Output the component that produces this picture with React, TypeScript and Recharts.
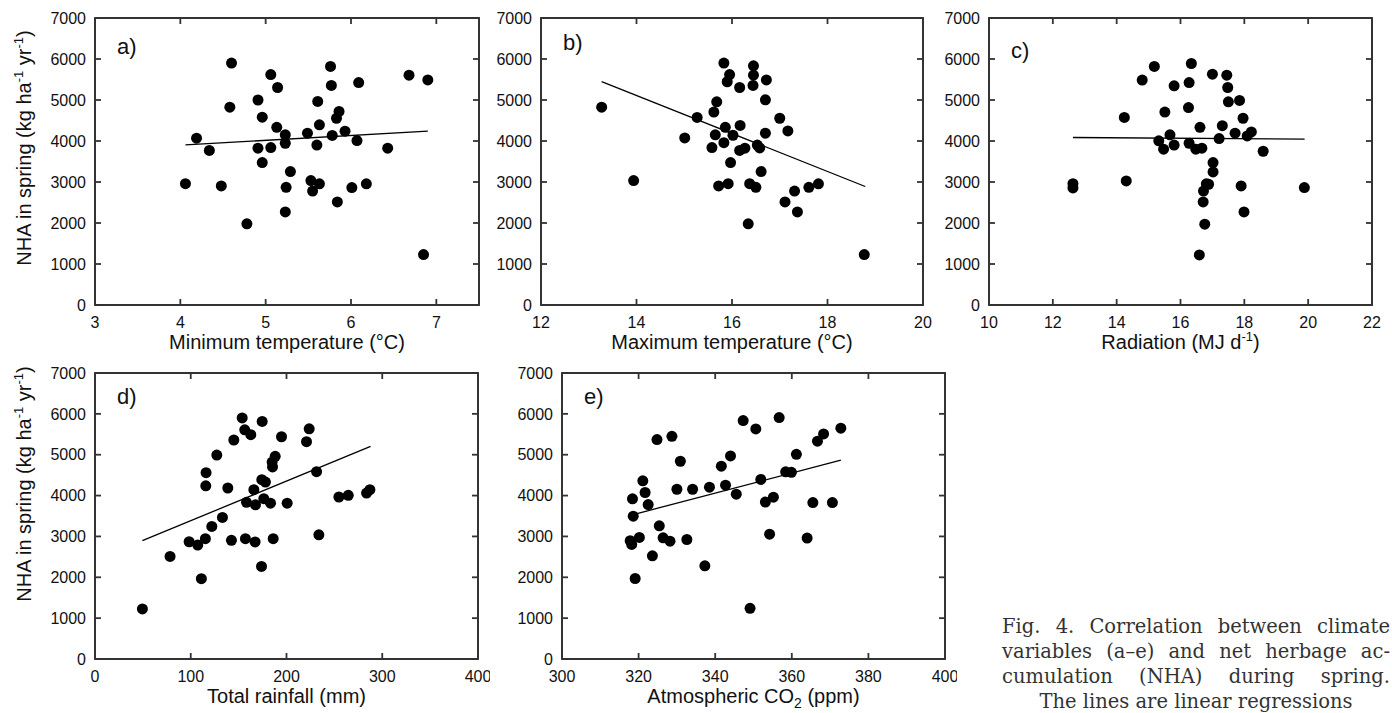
import React from "react";
import { ScatterChart, Scatter, XAxis, YAxis, Label, ReferenceArea } from "recharts";

// NHA in spring (kg/ha/yr) against each climate variable
const minTemp = [4.06, 4.19, 4.34, 4.48, 4.6, 4.58, 4.78, 4.91, 4.96, 4.91, 4.96, 5.06, 5.06, 5.14, 5.13, 5.23, 5.23, 5.24, 5.23, 5.29, 5.49, 5.53, 5.55, 5.63, 5.6, 5.61, 5.63, 5.76, 5.77, 5.78, 5.84, 5.83, 5.86, 5.93, 6.07, 6.09, 6.01, 6.18, 6.43, 6.68, 6.9, 6.85];
const nhaMinTemp = [2960, 4070, 3770, 2905, 5900, 4825, 1980, 5000, 4580, 3825, 3475, 5620, 3840, 5305, 4335, 4150, 3945, 2870, 2270, 3255, 4190, 3035, 2780, 2955, 3900, 4965, 4395, 5820, 5355, 4135, 2515, 4555, 4720, 4240, 4010, 5425, 2865, 2955, 3825, 5605, 5490, 1230];

const maxTemp = [13.27, 13.94, 15.01, 15.27, 15.58, 15.62, 15.68, 15.65, 15.72, 15.83, 15.86, 15.83, 15.92, 15.95, 15.9, 15.97, 16.02, 16.16, 16.17, 16.16, 16.27, 16.34, 16.37, 16.45, 16.45, 16.44, 16.5, 16.53, 16.58, 16.61, 16.7, 16.72, 16.7, 17.0, 17.17, 17.11, 17.31, 17.37, 17.61, 17.81, 18.77];
const nhaMaxTemp = [4825, 3035, 4075, 4575, 3840, 4705, 4955, 4150, 2905, 5900, 4335, 3960, 2960, 5620, 5445, 3475, 4140, 5305, 4380, 3770, 3825, 1980, 2960, 5835, 5605, 5355, 2870, 3900, 3830, 3255, 5005, 5490, 4190, 4555, 4245, 2515, 2780, 2270, 2870, 2955, 1230];

const radiation = [12.63, 12.63, 14.24, 14.3, 14.8, 15.18, 15.32, 15.47, 15.51, 15.67, 15.8, 15.8, 16.25, 16.27, 16.27, 16.34, 16.48, 16.61, 16.67, 16.59, 16.71, 16.72, 16.76, 16.81, 16.88, 17.02, 17.02, 17.0, 17.21, 17.31, 17.45, 17.48, 17.5, 17.71, 17.85, 17.9, 17.96, 17.99, 18.09, 18.22, 18.59, 19.88];
const nhaRadiation = [2960, 2855, 4575, 3025, 5485, 5820, 4005, 3800, 4705, 4150, 3900, 5345, 4815, 5425, 3945, 5890, 3800, 4335, 3825, 1220, 2515, 2780, 1970, 2955, 2945, 3475, 3245, 5630, 4060, 4375, 5605, 5305, 4955, 4190, 4990, 2905, 4555, 2270, 4125, 4220, 3750, 2865];

const rainfall = [49.5, 78.4, 98.3, 107.3, 111.1, 115.3, 116.0, 115.7, 122.0, 127.2, 133.1, 138.7, 142.5, 145.0, 153.7, 156.4, 157.1, 158.2, 162.7, 165.9, 167.2, 167.6, 174.6, 173.9, 174.2, 178.0, 176.3, 183.3, 185.0, 185.4, 188.2, 186.1, 194.8, 200.7, 220.9, 223.7, 231.4, 233.8, 254.7, 264.5, 283.6, 287.1];
const nhaRainfall = [1225, 2510, 2870, 2790, 1965, 2945, 4560, 4240, 3245, 4990, 3465, 4185, 2905, 5360, 5900, 5610, 2945, 3835, 5490, 4145, 2865, 3775, 5815, 2265, 4390, 4330, 3925, 3815, 4820, 4700, 4960, 2945, 5440, 3815, 5320, 5635, 4585, 3040, 3965, 4005, 4060, 4145];

const co2 = [317.8, 318.2, 318.4, 318.6, 319.1, 320.2, 321.1, 321.7, 322.5, 323.6, 324.8, 325.4, 326.4, 328.2, 328.7, 330.0, 330.9, 332.6, 334.1, 337.3, 338.5, 341.6, 342.7, 344.0, 345.5, 347.3, 349.1, 350.6, 351.9, 353.1, 354.2, 355.2, 356.7, 358.4, 359.9, 361.2, 364.0, 365.5, 366.7, 368.3, 370.6, 372.8];
const nhaCo2 = [2895, 2805, 3920, 3495, 1970, 2975, 4360, 4075, 3780, 2525, 5370, 3260, 2965, 2885, 5450, 4155, 4840, 2925, 4155, 2280, 4205, 4720, 4255, 4970, 4035, 5835, 1240, 5630, 4395, 3840, 3055, 3960, 5910, 4580, 4570, 5010, 2960, 3830, 5330, 5510, 3830, 5650];

// regression line end points (x, y)
const fitMinTemp = [[4.06, 3905], [6.9, 4240]];
const fitMaxTemp = [[13.27, 5450], [18.79, 2890]];
const fitRadiation = [[12.63, 4085], [19.89, 4045]];
const fitRainfall = [[49.5, 2895], [287.8, 5205]];
const fitCo2 = [[319.6, 3560], [372.8, 4865]];

const yTicks = [0, 1000, 2000, 3000, 4000, 5000, 6000, 7000];
const minTempTicks = [3, 4, 5, 6, 7];
const maxTempTicks = [12, 14, 16, 18, 20];
const radiationTicks = [10, 12, 14, 16, 18, 20, 22];
const rainfallTicks = [0, 100, 200, 300, 400];
const co2Ticks = [300, 320, 340, 360, 380, 400];

const FONT = "'Liberation Sans', Arial, sans-serif";
const LINE = "#333";
const LW = 1.8;
const TL = 6; // inward tick length
const AXIS = { stroke: LINE, strokeWidth: LW };

const dot = (p: any) => <circle cx={p.cx} cy={p.cy} r={5.5} fill="#000" />;
const noDot = () => <g />;

const yTitle = (
  <>
    NHA in spring (kg ha<tspan dy={-8} fontSize={13}>-1</tspan>
    <tspan dy={8}> yr</tspan>
    <tspan dy={-8} fontSize={13}>-1</tspan>
    <tspan dy={8}>)</tspan>
  </>
);

interface PanelProps {
  left: number;
  top: number;
  plotW: number;
  plotH: number;
  yAxisW: number;
  xs: number[];
  ys: number[];
  fit: number[][];
  domain: [number, number];
  ticks: number[];
  letter: string;
  letterDy: number;
  xTitle: React.ReactNode;
  yLabelY?: number;
}

function Panel(props: PanelProps) {
  const { left, top, plotW, plotH, yAxisW, xs, ys, fit, domain, ticks, letter, letterDy, xTitle, yLabelY } = props;
  const points = xs.map((x, i) => ({ x, y: ys[i] }));
  const line = fit.map(([x, y]) => ({ x, y }));
  const width = yAxisW + plotW + 12;
  const height = 10 + plotH + 56;

  // tick marks point inward, on both opposite sides of the box
  const bottomTick = (p: any) => (
    <g>
      <line x1={p.x} y1={p.y} x2={p.x} y2={p.y - TL} stroke={LINE} strokeWidth={LW} />
      <line x1={p.x} y1={p.y - plotH} x2={p.x} y2={p.y - plotH + TL} stroke={LINE} strokeWidth={LW} />
      <text x={p.x} y={p.y + 12} dy="0.71em" textAnchor="middle" fontSize={16} fill="#111" fontFamily={FONT}>
        {p.payload.value}
      </text>
    </g>
  );
  const leftTick = (p: any) => (
    <g>
      <line x1={p.x} y1={p.y} x2={p.x + TL} y2={p.y} stroke={LINE} strokeWidth={LW} />
      <line x1={p.x + plotW} y1={p.y} x2={p.x + plotW - TL} y2={p.y} stroke={LINE} strokeWidth={LW} />
      <text x={p.x - 9} y={p.y} dy="0.355em" textAnchor="end" fontSize={16} fill="#111" fontFamily={FONT}>
        {p.payload.value}
      </text>
    </g>
  );

  return (
    <>
      <div style={{ position: "absolute", left: left - yAxisW, top: top - 10 }}>
        <ScatterChart width={width} height={height} margin={{ top: 0, right: 0, bottom: 0, left: 0 }}>
          <XAxis
            type="number"
            dataKey="x"
            domain={domain}
            ticks={ticks}
            interval={0}
            height={56}
            tickSize={0}
            tickMargin={0}
            axisLine={AXIS}
            tickLine={false}
            tick={bottomTick}
          >
            <Label
              content={(p: any) => (
                <text
                  x={p.viewBox.x + p.viewBox.width / 2}
                  y={p.viewBox.y + 44}
                  textAnchor="middle"
                  fontSize={20}
                  fill="#111"
                  fontFamily={FONT}
                >
                  {xTitle}
                </text>
              )}
            />
          </XAxis>
          <XAxis
            xAxisId="top"
            orientation="top"
            type="number"
            dataKey="x"
            domain={domain}
            ticks={ticks}
            interval={0}
            height={10}
            axisLine={AXIS}
            tickLine={false}
            tick={false}
          />
          <YAxis
            type="number"
            dataKey="y"
            domain={[0, 7000]}
            ticks={yTicks}
            interval={0}
            width={yAxisW}
            tickSize={0}
            tickMargin={0}
            axisLine={AXIS}
            tickLine={false}
            tick={leftTick}
          >
            {yLabelY !== undefined && (
              <Label
                content={() => (
                  <text
                    x={31}
                    y={yLabelY}
                    transform={`rotate(-90 31 ${yLabelY})`}
                    textAnchor="middle"
                    fontSize={20}
                    fill="#111"
                    fontFamily={FONT}
                  >
                    {yTitle}
                  </text>
                )}
              />
            )}
          </YAxis>
          <YAxis
            yAxisId="right"
            orientation="right"
            type="number"
            dataKey="y"
            domain={[0, 7000]}
            ticks={yTicks}
            interval={0}
            width={12}
            axisLine={AXIS}
            tickLine={false}
            tick={false}
          />
          <ReferenceArea
            x1={domain[0]}
            x2={domain[1]}
            y1={0}
            y2={7000}
            fill="none"
            stroke={LINE}
            strokeWidth={LW}
            ifOverflow="visible"
          />
          <Scatter data={points} shape={dot} isAnimationActive={false} />
          <Scatter
            data={line}
            xAxisId="top"
            yAxisId="right"
            line={{ stroke: "#000", strokeWidth: 1.3 }}
            shape={noDot}
            isAnimationActive={false}
          />
        </ScatterChart>
      </div>
      <div
        style={{
          position: "absolute",
          left: left + 22,
          top: top + letterDy,
          fontFamily: FONT,
          fontSize: 22,
          lineHeight: "22px",
          color: "#111",
        }}
      >
        {letter}
      </div>
    </>
  );
}

const captionLine: React.CSSProperties = {
  position: "absolute",
  left: 1002,
  width: 388,
  fontFamily: "'DejaVu Serif', serif",
  fontSize: 19.5,
  lineHeight: "25px",
  color: "#333",
  whiteSpace: "nowrap",
};

export default function App() {
  return (
    <div style={{ position: "absolute", left: 0, top: 0, width: 1392, height: 713, background: "#fff", overflow: "hidden" }}>
      <Panel
        left={95} top={18} plotW={384} plotH={287} yAxisW={95}
        xs={minTemp} ys={nhaMinTemp} fit={fitMinTemp}
        domain={[3, 7.5]} ticks={minTempTicks}
        letter="a)" letterDy={18}
        xTitle="Minimum temperature (°C)"
        yLabelY={140}
      />
      <Panel
        left={541} top={18} plotW={382} plotH={287} yAxisW={60}
        xs={maxTemp} ys={nhaMaxTemp} fit={fitMaxTemp}
        domain={[12, 20]} ticks={maxTempTicks}
        letter="b)" letterDy={14}
        xTitle="Maximum temperature (°C)"
      />
      <Panel
        left={989} top={18} plotW={383} plotH={287} yAxisW={60}
        xs={radiation} ys={nhaRadiation} fit={fitRadiation}
        domain={[10, 22]} ticks={radiationTicks}
        letter="c)" letterDy={22}
        xTitle={
          <>
            Radiation (MJ d<tspan dy={-8} fontSize={13}>-1</tspan>
            <tspan dy={8}>)</tspan>
          </>
        }
      />
      <Panel
        left={95} top={373} plotW={383} plotH={286} yAxisW={95}
        xs={rainfall} ys={nhaRainfall} fit={fitRainfall}
        domain={[0, 400]} ticks={rainfallTicks}
        letter="d)" letterDy={13}
        xTitle="Total rainfall (mm)"
        yLabelY={121}
      />
      <Panel
        left={562} top={373} plotW={383} plotH={286} yAxisW={60}
        xs={co2} ys={nhaCo2} fit={fitCo2}
        domain={[300, 400]} ticks={co2Ticks}
        letter="e)" letterDy={13}
        xTitle={
          <>
            Atmospheric CO<tspan dy={5} fontSize={14}>2</tspan>
            <tspan dy={-5}> (ppm)</tspan>
          </>
        }
      />
      <div style={{ ...captionLine, top: 614, textAlign: "justify", textAlignLast: "justify" }}>
        Fig. 4. Correlation between climate
      </div>
      <div style={{ ...captionLine, top: 639, textAlign: "justify", textAlignLast: "justify" }}>
        variables (a–e) and net herbage ac-
      </div>
      <div style={{ ...captionLine, top: 664, textAlign: "justify", textAlignLast: "justify" }}>
        cumulation (NHA) during spring.
      </div>
      <div style={{ ...captionLine, top: 689, textAlign: "center" }}>The lines are linear regressions</div>
    </div>
  );
}
